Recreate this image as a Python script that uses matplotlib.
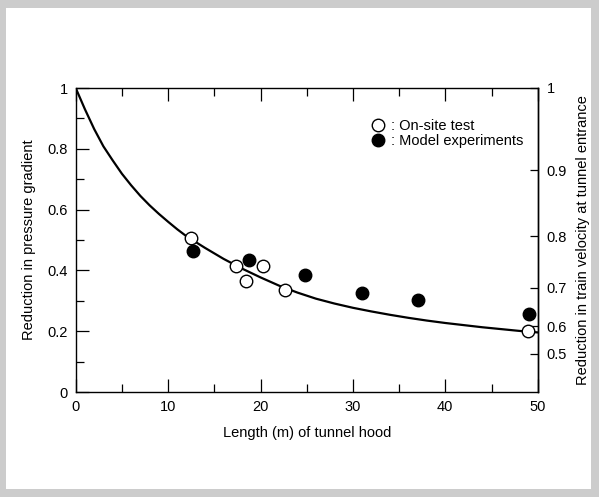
import numpy as np
import matplotlib
matplotlib.use("Agg")
import matplotlib.pyplot as plt
from matplotlib.lines import Line2D
from matplotlib.patches import Rectangle

plt.rcParams['font.family'] = ['Liberation Sans', 'DejaVu Sans']

# Data
onsite_x = [12.5, 17.4, 18.4, 20.3, 22.6, 48.9]
onsite_y = [0.506, 0.414, 0.366, 0.415, 0.336, 0.202]
model_x = [12.7, 18.8, 24.8, 31.0, 37.0, 49.1]
model_y = [0.465, 0.433, 0.385, 0.325, 0.303, 0.256]

curve_x = [0, 1, 2, 3, 4, 5, 6, 7, 8, 9, 10, 11, 12, 14, 16, 18, 20, 22, 24, 26,
           28, 30, 32, 34, 36, 38, 40, 42, 44, 46, 48, 50]
curve_y = [1.0, 0.93, 0.865, 0.808, 0.762, 0.718, 0.680, 0.645, 0.614, 0.586, 0.560,
           0.535, 0.512, 0.474, 0.438, 0.406, 0.377, 0.350, 0.327, 0.307, 0.291,
           0.277, 0.265, 0.254, 0.244, 0.235, 0.227, 0.220, 0.213, 0.207, 0.201, 0.196]

left_ticks = [0, 0.2, 0.4, 0.6, 0.8, 1]
left_labels = ['0', '0.2', '0.4', '0.6', '0.8', '1']
right_ticks = [0.5, 0.6, 0.7, 0.8, 0.9, 1]
right_labels = ['0.5', '0.6', '0.7', '0.8', '0.9', '1']
x_ticks = [0, 10, 20, 30, 40, 50]

FS = 10.5

fig = plt.figure(figsize=(5.99, 4.97), dpi=100)
fig.patch.set_facecolor('#cccccc')
fig.patches.append(Rectangle((6 / 599, 8 / 497), (591 - 6) / 599, (489 - 8) / 497,
                             transform=fig.transFigure, facecolor='white',
                             edgecolor='none', zorder=-10))

ax = fig.add_axes([75.7 / 599, 1 - 392 / 497, 462 / 599, 304 / 497])
ax.set_facecolor('white')

ax.plot(curve_x, curve_y, color='black', lw=1.6, zorder=2)
ax.plot(model_x, model_y, 'o', ms=9, mfc='black', mec='black', mew=1, zorder=3)
ax.plot(onsite_x, onsite_y, 'o', ms=9, mfc='white', mec='black', mew=1, zorder=4)

ax.set_xlim(0, 50)
ax.set_ylim(0, 1)
ax.set_xticks(x_ticks)
ax.set_xticks([5, 15, 25, 35, 45], minor=True)
ax.set_yticks(left_ticks)
ax.set_yticklabels(left_labels)
ax.set_yticks([0.1, 0.3, 0.5, 0.7, 0.9], minor=True)
ax.tick_params(which='both', direction='in', top=True, right=False,
               labelsize=FS, width=0.9, color='black')
ax.tick_params(which='major', length=9.5, pad=5.5)
ax.tick_params(which='minor', length=5.5)
for s in ax.spines.values():
    s.set_linewidth(1.0)

sec = ax.secondary_yaxis('right', functions=(lambda y: np.cbrt(np.clip(y, 0, None)),
                                            lambda r: np.asarray(r) ** 3))
sec.set_yticks(right_ticks)
sec.set_yticklabels(right_labels)
sec.tick_params(direction='in', length=5.5, width=0.9, labelsize=FS, pad=6.5)
sec.spines['right'].set_linewidth(1.0)

ax.set_xlabel('Length (m) of tunnel hood', fontsize=FS)
ax.xaxis.set_label_coords(0.5, (392 - 433) / 304)
ax.xaxis.label.set_va('center')
ax.set_ylabel('Reduction in pressure gradient', fontsize=FS)
ax.yaxis.set_label_coords((29 - 75.7) / 462, 0.5)
ax.yaxis.label.set_va('center')
ax.text((583 - 75.7) / 462, 0.5, 'Reduction in train velocity at tunnel entrance',
        transform=ax.transAxes, rotation=90, ha='center', va='center', fontsize=FS)

handles = [Line2D([], [], marker='o', ls='none', ms=9, mfc='white', mec='black', mew=1),
           Line2D([], [], marker='o', ls='none', ms=9, mfc='black', mec='black', mew=1)]
ax.legend(handles, [': On-site test', ': Model experiments'], frameon=False,
          loc='upper left', bbox_to_anchor=(0.6395, 0.898), borderpad=0,
          borderaxespad=0, handlelength=1.0, handletextpad=0.35,
          labelspacing=0.05, fontsize=FS)

fig.savefig('out.png', dpi=100, facecolor=fig.get_facecolor())
